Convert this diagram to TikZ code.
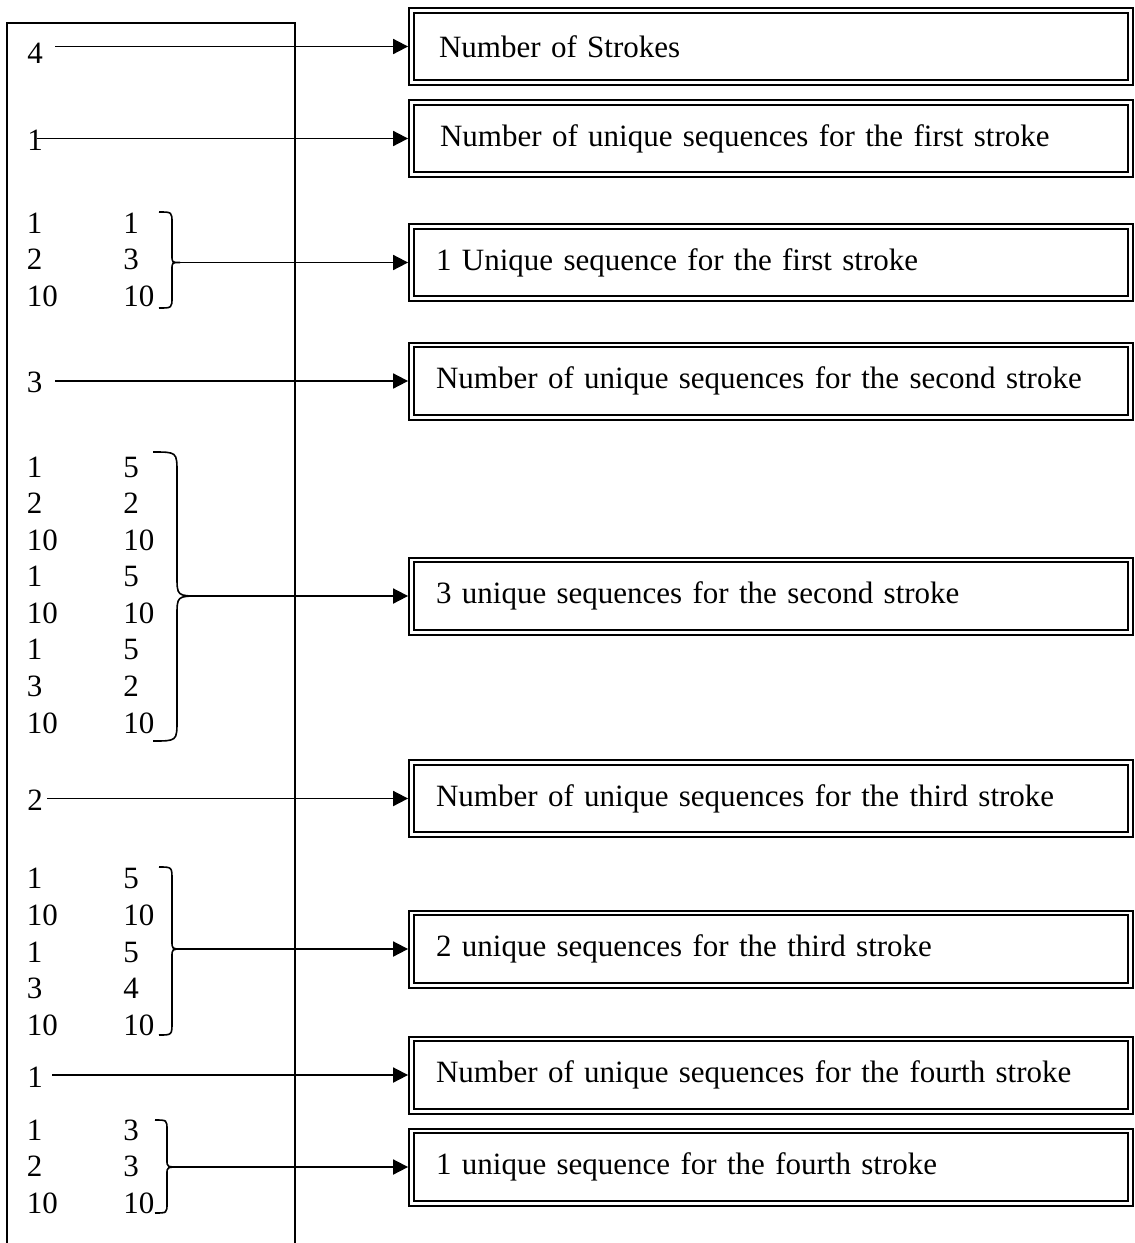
\documentclass[tikz,border=0pt]{standalone}
\usepackage{fontspec}
\setmainfont{Liberation Serif}
\usetikzlibrary{arrows.meta}
\newcommand\mybrace[9]{%
  \draw[bracestyle] ({#1},{#4}) .. controls ({#2},{#4}) .. ({#2},{#4+#7})
    -- ({#2},{#5-#8}) .. controls ({#2},{#5}) .. ({#3},{#5}) coordinate (#9)
    .. controls ({#2},{#5}) .. ({#2},{#5+#8})
    -- ({#2},{#6-#7}) .. controls ({#2},{#6}) .. ({#1},{#6});}
\tikzset{
  lbox/.style={draw, double, double distance=1.3pt, line width=1pt,
    minimum height=36.2pt, text width=334.9pt, inner xsep=12.35pt, inner ysep=0pt,
    align=left, outer sep=1.65pt, anchor=center},
  num/.style={anchor=base west, inner sep=0pt},
  arr/.style={line width=0.9pt, -{Triangle[length=7.5pt,width=7.5pt]}},
  bracestyle/.style={line width=0.8pt},
  frame/.style={line width=0.85pt}
}
\begin{document}
\begin{tikzpicture}[x=0.5pt, y=-0.5pt, font=\fontsize{15.5}{18}\selectfont]
\useasboundingbox (0,0) rectangle (1135,1243);
% outer frame (open at bottom)
\draw[frame] (7,1270) -- (7,23) -- (295,23) -- (295,1270);

% boxes
\node[lbox] (b1) at (771,46.5) {\hspace*{1.5pt}\mbox{Number of Strokes}};
\node[lbox] (b2) at (771,138.5) {\hspace*{2pt}\mbox{Number of unique sequences for the first stroke}};
\node[lbox] (b3) at (771,262.5) {\mbox{1 Unique sequence for the first stroke}};
\node[lbox] (b4) at (771,381) {\mbox{Number of unique sequences for the second stroke}};
\node[lbox] (b5) at (771,596) {\mbox{3 unique sequences for the second stroke}};
\node[lbox] (b6) at (771,798.5) {\mbox{Number of unique sequences for the third stroke}};
\node[lbox] (b7) at (771,949) {\mbox{2 unique sequences for the third stroke}};
\node[lbox] (b8) at (771,1075) {\mbox{Number of unique sequences for the fourth stroke}};
\node[lbox] (b9) at (771,1167) {\mbox{1 unique sequence for the fourth stroke}};

% single counts
\node[num] (c1) at (27,63) {4};
\node[num] (c2) at (27,150) {1};
\node[num] (c3) at (26.5,392) {3};
\node[num] (c4) at (27,810) {2};
\node[num] (c5) at (27,1087) {1};

% group 1
\node[num] (g1a1) at (26.5,233) {1};   \node[num] (g1b1) at (123,233) {1};
\node[num] (g1a2) at (26.5,269.5) {2}; \node[num] (g1b2) at (123,269.5) {3};
\node[num] (g1a3) at (26.5,306) {10};  \node[num] (g1b3) at (123,306) {10};

% group 2
\node[num] (g2a1) at (26.5,477) {1};    \node[num] (g2b1) at (123,477) {5};
\node[num] (g2a2) at (26.5,513.6) {2};  \node[num] (g2b2) at (123,513.6) {2};
\node[num] (g2a3) at (26.5,550.1) {10}; \node[num] (g2b3) at (123,550.1) {10};
\node[num] (g2a4) at (26.5,586.7) {1};  \node[num] (g2b4) at (123,586.7) {5};
\node[num] (g2a5) at (26.5,623.3) {10}; \node[num] (g2b5) at (123,623.3) {10};
\node[num] (g2a6) at (26.5,659.9) {1};  \node[num] (g2b6) at (123,659.9) {5};
\node[num] (g2a7) at (26.5,696.4) {3};  \node[num] (g2b7) at (123,696.4) {2};
\node[num] (g2a8) at (26.5,733) {10};   \node[num] (g2b8) at (123,733) {10};

% group 3
\node[num] (g3a1) at (26.5,888) {1};   \node[num] (g3b1) at (123,888) {5};
\node[num] (g3a2) at (26.5,925) {10};  \node[num] (g3b2) at (123,925) {10};
\node[num] (g3a3) at (26.5,962) {1};   \node[num] (g3b3) at (123,962) {5};
\node[num] (g3a4) at (26.5,998) {3};   \node[num] (g3b4) at (123,998) {4};
\node[num] (g3a5) at (26.5,1035) {10}; \node[num] (g3b5) at (123,1035) {10};

% group 4
\node[num] (g4a1) at (26.5,1140) {1};    \node[num] (g4b1) at (123,1140) {3};
\node[num] (g4a2) at (26.5,1176.5) {2};  \node[num] (g4b2) at (123,1176.5) {3};
\node[num] (g4a3) at (26.5,1213) {10};   \node[num] (g4b3) at (123,1213) {10};

% braces  (x0, xv, xtip, ytop, ytip, ybot, rhook, rtip, name)
\mybrace{159}{172}{180}{212}{262.5}{308}{11}{7}{t1}
\mybrace{153}{177}{200}{452}{596}{741}{21}{20}{t2}
\mybrace{159}{172}{182}{867}{949}{1035}{13}{8}{t3}
\mybrace{155}{167}{180}{1120}{1167}{1213}{10}{7}{t4}

% arrow starts
\coordinate (s1) at (55,46.5);
\coordinate (s2) at (37,138.5);
\coordinate (s3) at (55,381);
\coordinate (s4) at (47,798.5);
\coordinate (s5) at (52,1075);

% connectors
\draw[arr] (s1) -- (b1);
\draw[arr] (s2) -- (b2);
\draw[arr] (t1) -- (b3);
\draw[arr] (s3) -- (b4);
\draw[arr] (t2) -- (b5);
\draw[arr] (s4) -- (b6);
\draw[arr] (t3) -- (b7);
\draw[arr] (s5) -- (b8);
\draw[arr] (t4) -- (b9);
\end{tikzpicture}
\end{document}
